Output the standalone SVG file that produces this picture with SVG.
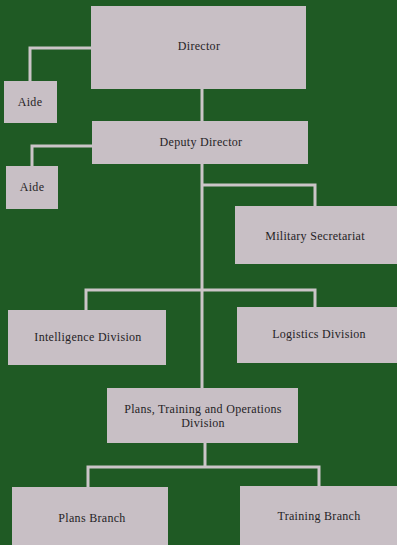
<svg xmlns="http://www.w3.org/2000/svg" width="397" height="545" viewBox="0 0 397 545">
<style>
.bg{fill:#1f5a24}
.box{fill:#c8bfc5}
.ln{stroke:#cbc5c8;stroke-width:3;fill:none}
text{font-family:"Liberation Serif","Times New Roman",serif;font-size:12px;fill:#262326;text-anchor:middle;letter-spacing:0.3px}
</style>
<rect class="bg" x="0" y="0" width="397" height="545"/>
<g id="connectors">
<path class="ln" d="M91 48 H30 V81"/>
<path class="ln" d="M92 146 H32 V166"/>
<path class="ln" d="M202 89 V121"/>
<path class="ln" d="M202 164 V388"/>
<path class="ln" d="M202 185 H315 V206"/>
<path class="ln" d="M86 310 V290 H315 V307"/>
<path class="ln" d="M205 443 V467"/>
<path class="ln" d="M88 487 V467 H319 V486"/>
</g>
<g id="director"><rect class="box" x="91" y="6" width="215" height="83"/><text x="199" y="50">Director</text></g>
<g id="aide1"><rect class="box" x="4" y="81" width="53" height="42"/><text x="30" y="106">Aide</text></g>
<g id="deputy"><rect class="box" x="92" y="121" width="216" height="43"/><text x="201" y="146">Deputy Director</text></g>
<g id="aide2"><rect class="box" x="6" y="166" width="52" height="43"/><text x="32" y="191">Aide</text></g>
<g id="military"><rect class="box" x="235" y="206" width="162" height="58"/><text x="315" y="240">Military Secretariat</text></g>
<g id="intelligence"><rect class="box" x="8" y="310" width="158" height="55"/><text x="88" y="341">Intelligence Division</text></g>
<g id="logistics"><rect class="box" x="237" y="307" width="160" height="56"/><text x="319" y="338">Logistics Division</text></g>
<g id="pto"><rect class="box" x="107" y="388" width="191" height="55"/><text x="203" y="413">Plans, Training and Operations</text><text x="203" y="427">Division</text></g>
<g id="plans"><rect class="box" x="12" y="487" width="156" height="60"/><text x="92" y="522">Plans Branch</text></g>
<g id="training"><rect class="box" x="240" y="486" width="157" height="61"/><text x="319" y="520">Training Branch</text></g>
</svg>
